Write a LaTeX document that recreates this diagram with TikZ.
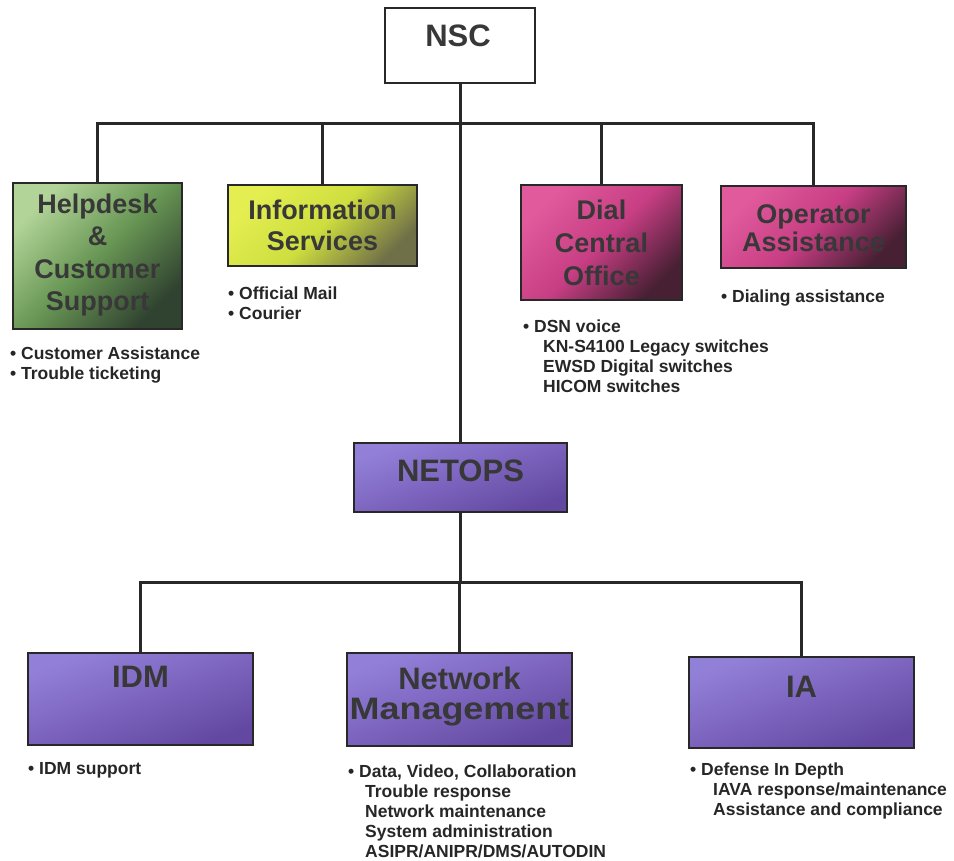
\documentclass[tikz,border=0pt]{standalone}
\usepackage{fontspec}
\setmainfont{Liberation Sans}
\definecolor{hdA}{RGB}{178,212,152}
\definecolor{hdB}{RGB}{104,150,84}
\definecolor{hdC}{RGB}{48,66,48}
\definecolor{isA}{RGB}{228,238,80}
\definecolor{isB}{RGB}{206,222,62}
\definecolor{isC}{RGB}{112,112,72}
\definecolor{pkA}{RGB}{224,90,156}
\definecolor{pkB}{RGB}{200,62,132}
\definecolor{pkC}{RGB}{72,32,52}
\definecolor{puA}{RGB}{146,128,216}
\definecolor{puB}{RGB}{124,100,190}
\definecolor{puC}{RGB}{98,72,160}
\definecolor{ink}{RGB}{40,40,40}
\begin{document}
\begin{tikzpicture}[x=1pt,y=-1pt,
  conn/.style={draw=ink, line width=3pt},
  box/.style={draw=ink, line width=1.8pt, inner sep=0pt},
  ttl/.style={text=black!78, align=center, inner sep=0pt},
  big/.style={font=\bfseries\fontsize{31}{31}\selectfont},
  mid/.style={font=\bfseries\fontsize{27}{#1}\selectfont},
  blt/.style={text=black!85, font=\bfseries\fontsize{17.5}{20}\selectfont, align=left, anchor=north west, inner sep=0pt},
  grn/.style={top color=hdA, bottom color=hdC, middle color=hdB, shading angle=45},
  yel/.style={top color=isA, bottom color=isC, middle color=isB, shading angle=45},
  pnk/.style={top color=pkA, bottom color=pkC, middle color=pkB, shading angle=45},
  pur/.style={top color=puA, bottom color=puC, middle color=puB, shading angle=20},
]
\useasboundingbox (0,0) rectangle (954,861);

% boxes
\node[box, fill=white, minimum width=150pt, minimum height=75pt] (nsc) at (460,45.5) {};
\node[box, grn, minimum width=169pt, minimum height=146pt] (hd) at (97.5,256) {};
\node[box, yel, minimum width=189pt, minimum height=81pt] (is) at (322.5,225.5) {};
\node[box, pnk, minimum width=161pt, minimum height=115pt] (dco) at (601.5,242.5) {};
\node[box, pnk, minimum width=185pt, minimum height=82pt] (op) at (813.5,227) {};
\node[box, pur, minimum width=213pt, minimum height=69pt] (netops) at (460.5,477.5) {};
\node[box, pur, minimum width=225pt, minimum height=92pt] (idm) at (140.5,699) {};
\node[box, pur, minimum width=225pt, minimum height=93pt] (nm) at (459.5,699.5) {};
\node[box, pur, minimum width=225pt, minimum height=91pt] (ia) at (801.5,702.5) {};

% connectors
\coordinate (bus) at (460,124);
\coordinate (bus2) at (460,582);
\draw[conn] (nsc.south) -- (nsc.south |- netops.north);
\draw[conn] (hd.north) |- (bus) -| (op.north);
\draw[conn] (is.north) -- (is.north |- bus);
\draw[conn] (dco.north) -- (dco.north |- bus);
\draw[conn] (netops.south) -- (netops.south |- bus2);
\draw[conn] (idm.north) |- (bus2) -| (ia.north);
\draw[conn] (nm.north) -- (nm.north |- bus2);

% titles
\node[ttl, big] (tnsc) at (458,36) {NSC};
\node[ttl, mid=32.5] (thd) at (97.5,255) {Helpdesk\\\&\\Customer\\Support};
\node[ttl, mid=31] (tis) at (322.5,225) {Information\\Services};
\node[ttl, mid=33] (tdco) at (601.5,243) {Dial\\Central\\Office};
\node[ttl, mid=28] (top) at (813.5,228) {Operator\\Assistance};
\node[ttl, big] (tnetops) at (460.5,471) {NETOPS};
\node[ttl, big] (tidm) at (140.5,677) {IDM};
\node[ttl, font=\bfseries\fontsize{31}{30}\selectfont] (tnm) at (459.5,697) {Network\\\scalebox{1.16}[1]{Management}};
\node[ttl, big] (tia) at (801.5,687) {IA};

% bullet lists
\node[blt] (bhd) at (10,347) {• Customer Assistance\\• Trouble ticketing};
\node[blt] (bis) at (228,287) {• Official Mail\\• Courier};
\node[blt] (bdco) at (523,320) {• DSN voice\\\hspace*{20pt}KN-S4100 Legacy switches\\\hspace*{20pt}EWSD Digital switches\\\hspace*{20pt}HICOM switches};
\node[blt] (bop) at (721,290) {• Dialing assistance};
\node[blt] (bidm) at (28,762) {• IDM support};
\node[blt] (bnm) at (348,765) {• Data, Video, Collaboration\\\hspace*{17pt}Trouble response\\\hspace*{17pt}Network maintenance\\\hspace*{17pt}System administration\\\hspace*{17pt}ASIPR/ANIPR/DMS/AUTODIN};
\node[blt] (bia) at (690,763) {• Defense In Depth\\\hspace*{23pt}IAVA response/maintenance\\\hspace*{23pt}Assistance and compliance};
\end{tikzpicture}
\end{document}
